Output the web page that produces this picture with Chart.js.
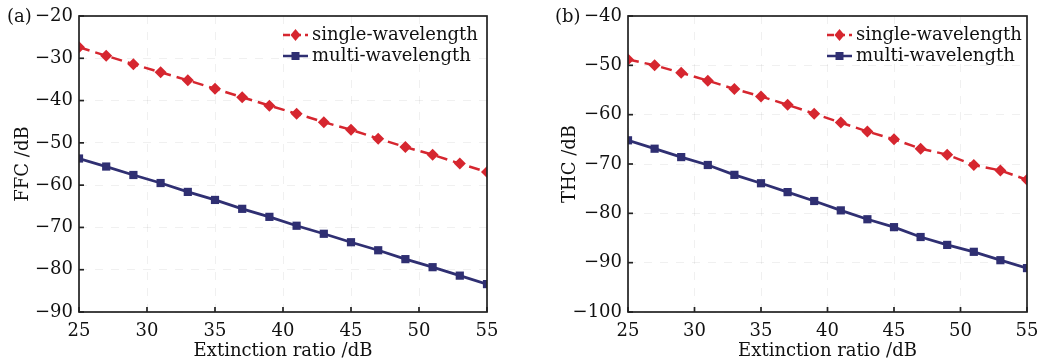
<!DOCTYPE html>
<html><head><meta charset="utf-8">
<script src="https://cdn.jsdelivr.net/npm/chart.js@4.4.1/dist/chart.umd.min.js"></script>
<style>
html,body{margin:0;padding:0;background:#fff;}
#wrap{position:relative;width:1041px;height:364px;}
.c{position:absolute;top:0;height:364px;}
</style></head><body>
<div id="wrap">
<div class="c" style="left:0;width:520px;"><canvas id="ca"></canvas></div>
<div class="c" style="left:520px;width:521px;"><canvas id="cb"></canvas></div>
</div>
<script>
const extinctionRatio = [25,27,29,31,33,35,37,39,41,43,45,47,49,51,53,55];
const ffcSingle = [-27.4,-29.4,-31.4,-33.3,-35.2,-37.2,-39.2,-41.2,-43.1,-45.1,-46.9,-49.0,-51.0,-52.8,-54.9,-56.9];
const ffcMulti  = [-53.7,-55.6,-57.6,-59.5,-61.6,-63.5,-65.6,-67.5,-69.6,-71.5,-73.5,-75.4,-77.5,-79.4,-81.4,-83.4];
const thcSingle = [-48.8,-50.0,-51.5,-53.1,-54.8,-56.3,-58.0,-59.8,-61.6,-63.4,-65.0,-66.9,-68.1,-70.2,-71.3,-73.2];
const thcMulti  = [-65.2,-66.9,-68.6,-70.2,-72.2,-73.9,-75.7,-77.5,-79.4,-81.2,-82.8,-84.8,-86.4,-87.8,-89.5,-91.1];
const seriesNames = ['single-wavelength','multi-wavelength'];

const RED = '#d6262f', NAVY = '#2f2f72';
const FONT = "'DejaVu Serif', serif";

function pts(ys){ return extinctionRatio.map((x,i)=>({x:x,y:ys[i]})); }

function boxPlugin(panelLabel, labelX, legendX, legendY){
  return {
    id:'box'+panelLabel,
    afterDraw(chart){
      const {ctx, chartArea:a, scales} = chart;
      ctx.save();
      ctx.strokeStyle = '#222'; ctx.lineWidth = 1.7;
      ctx.strokeRect(a.left, a.top, a.right-a.left, a.bottom-a.top);
      scales.x.ticks.forEach(t=>{ const px = scales.x.getPixelForValue(t.value);
        ctx.beginPath(); ctx.moveTo(px,a.bottom); ctx.lineTo(px,a.bottom-5); ctx.stroke(); });
      scales.y.ticks.forEach(t=>{ const py = scales.y.getPixelForValue(t.value);
        ctx.beginPath(); ctx.moveTo(a.left,py); ctx.lineTo(a.left+5,py); ctx.stroke(); });
      ctx.fillStyle = '#111'; ctx.font = "18px "+FONT; ctx.textBaseline='middle'; ctx.textAlign='left';
      ctx.fillText(panelLabel, labelX, a.top+1);
      chart.data.datasets.forEach((ds,i)=>{
        const y = legendY + i*21;
        ctx.strokeStyle = ds.borderColor; ctx.lineWidth = 2.5;
        ctx.setLineDash(ds.borderDash && ds.borderDash.length ? [7,4] : []);
        ctx.beginPath(); ctx.moveTo(legendX, y); ctx.lineTo(legendX+25, y); ctx.stroke();
        ctx.setLineDash([]);
        ctx.fillStyle = ds.borderColor;
        const cx = legendX+12.5;
        if (ds.pointStyle==='rectRot'){
          ctx.beginPath(); ctx.moveTo(cx,y-6); ctx.lineTo(cx+5,y); ctx.lineTo(cx,y+6); ctx.lineTo(cx-5,y); ctx.closePath(); ctx.fill();
        } else { ctx.fillRect(cx-4,y-4,8,8); }
        ctx.fillStyle = '#111'; ctx.font = "18px "+FONT; ctx.textAlign='left'; ctx.textBaseline='middle';
        ctx.fillText(ds.label, legendX+29, y);
      });
      ctx.restore();
    }
  };
}

function makeChart(id, single, multi, ymin, ymax, ytitle, panel, labelX, yWidth, titlePad, padRight, legendX){
  return new Chart(document.getElementById(id), {
    type:'line',
    data:{ datasets:[
      {label:seriesNames[0], data:pts(single), borderColor:RED, backgroundColor:RED, borderWidth:2.5,
       borderDash:[11,6], pointStyle:'rectRot', pointRadius:6, pointBorderWidth:0, tension:0},
      {label:seriesNames[1], data:pts(multi), borderColor:NAVY, backgroundColor:NAVY, borderWidth:2.8,
       pointStyle:'rect', pointRadius:5.8, pointBorderWidth:0, tension:0}
    ]},
    options:{
      responsive:true, maintainAspectRatio:false, animation:false,
      layout:{padding:{top:16,right:padRight,bottom:0,left:0}},
      plugins:{legend:{display:false}, tooltip:{enabled:false}},
      scales:{
        x:{type:'linear', min:25, max:55,
           ticks:{stepSize:5, color:'#111', font:{family:FONT,size:18}, padding:9, maxRotation:0},
           grid:{color:'rgba(0,0,0,0.06)', drawTicks:false}, border:{display:false, dash:[8,8]},
           title:{display:true, text:'Extinction ratio /dB', color:'#111', font:{family:FONT,size:18}, padding:{top:0,bottom:2}},
           afterFit(s){ s.height = 52; s.paddingLeft = 0; s.paddingRight = 0; }},
        y:{type:'linear', min:ymin, max:ymax,
           ticks:{stepSize:10, color:'#111', font:{family:FONT,size:18}, padding:6,
                  callback:v=>String(v).replace('-', '\u2212')},
           grid:{color:'rgba(0,0,0,0.06)', drawTicks:false}, border:{display:false, dash:[8,8]},
           title:{display:true, text:ytitle, color:'#111', font:{family:FONT,size:18}, padding:{top:titlePad,bottom:0}},
           afterFit(s){ s.width = yWidth; s.paddingTop = 0; s.paddingBottom = 0; }}
      }
    },
    plugins:[boxPlugin(panel, labelX, legendX, 35)]
  });
}

makeChart('ca', ffcSingle, ffcMulti, -90, -20, 'FFC /dB', '(a)', 7, 79, 13, 33, 283);
makeChart('cb', thcSingle, thcMulti, -100, -40, 'THC /dB', '(b)', 35, 108, 40, 14, 307);
</script>
</body></html>
